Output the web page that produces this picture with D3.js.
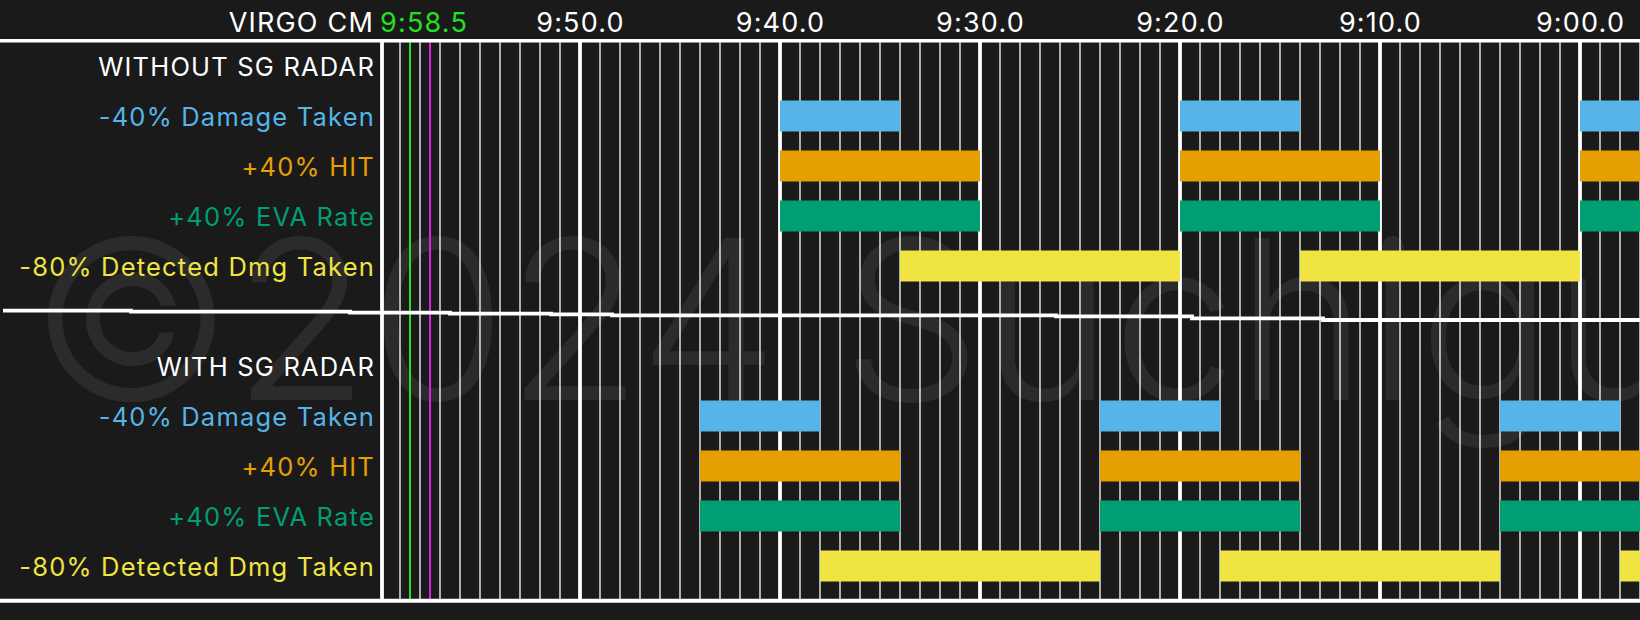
<!DOCTYPE html>
<html>
<head>
<meta charset="utf-8">
<script src="https://cdn.jsdelivr.net/npm/d3@7"></script>
<style>
  html, body { margin: 0; padding: 0; background: #1a1a1a; }
  svg { display: block; }
</style>
</head>
<body>
<svg id="chart" width="1640" height="620"></svg>
<script>
// ---------------- DATA ----------------
const headerLabel = "VIRGO CM";
const markerLabel = "9:58.5";
const markerTimes = ["9:58.5", "9:57.5"];            // green line, magenta line
const tickLabels = ["9:50.0", "9:40.0", "9:30.0", "9:20.0", "9:10.0", "9:00.0"];
const timeStart = "10:00";
const timeEnd = "8:57";
const sections = ["WITHOUT SG RADAR", "WITH SG RADAR"];
const categories = ["-40% Damage Taken", "+40% HIT", "+40% EVA Rate", "-80% Detected Dmg Taken"];
const categoryColors = ["#56b4e9", "#e69f00", "#009e73", "#f0e442"];

// active windows [from, to] (countdown timer)
const withoutDamageTaken = [["9:40", "9:34"], ["9:20", "9:14"], ["9:00", "8:54"]];
const withoutHit         = [["9:40", "9:30"], ["9:20", "9:10"], ["9:00", "8:50"]];
const withoutEva         = [["9:40", "9:30"], ["9:20", "9:10"], ["9:00", "8:50"]];
const withoutDetected    = [["9:34", "9:20"], ["9:14", "9:00"]];
const withDamageTaken    = [["9:44", "9:38"], ["9:24", "9:18"], ["9:04", "8:58"]];
const withHit            = [["9:44", "9:34"], ["9:24", "9:14"], ["9:04", "8:54"]];
const withEva            = [["9:44", "9:34"], ["9:24", "9:14"], ["9:04", "8:54"]];
const withDetected       = [["9:38", "9:24"], ["9:18", "9:04"], ["8:58", "8:44"]];
const watermark = "\u00A92024 Suchiguma";

// ---------------- CHART ----------------
const W = 1640, H = 620;
const FONT = "Inter, 'Noto Sans', sans-serif";
const toSec = s => { const [m, ss] = s.split(":"); return (+m) * 60 + (+ss); };

const x = d3.scaleLinear().domain([toSec(timeStart), toSec(timeEnd)]).range([380, 1640]);
// row slots: 0 header1, 1-4 rows, 5 separator, 6 header2, 7-10 rows
const y = d3.scalePoint().domain(d3.range(11)).range([66, 566]);
const barH = 31;
const topY = 40.7, bottomY = 600.7;

const svg = d3.select("#chart");
svg.append("rect").attr("width", W).attr("height", H).attr("fill", "#1a1a1a");

// watermark
svg.append("text")
  .attr("x", 30).attr("y", y(6) + 34)
  .attr("font-family", FONT).attr("font-weight", 300)
  .attr("font-size", 222)
  .attr("fill", "#ffffff").attr("fill-opacity", 0.075)
  .text(watermark);

svg.append("defs").append("clipPath").attr("id", "plotClip")
  .append("rect").attr("x", x.range()[0]).attr("y", 0).attr("width", W - x.range()[0]).attr("height", H);

const plot = svg.append("g").attr("clip-path", "url(#plotClip)");

// grid lines every second, thick every 10 s
const secs = d3.range(Math.ceil(x.domain()[1]), x.domain()[0] + 1);
plot.selectAll("line.grid").data(secs).join("line")
  .attr("class", "grid")
  .attr("x1", d => x(d) + (d === x.domain()[0] ? 2 : 0))
  .attr("x2", d => x(d) + (d === x.domain()[0] ? 2 : 0))
  .attr("y1", topY).attr("y2", bottomY)
  .attr("stroke", "#ffffff")
  .attr("stroke-width", d => d % 10 === 0 ? 3.8 : 1.3);

// bars
const sectionData = [
  [withoutDamageTaken, withoutHit, withoutEva, withoutDetected],
  [withDamageTaken, withHit, withEva, withDetected]
];
const bars = [];
sectionData.forEach((sec, si) => sec.forEach((arr, ci) => arr.forEach(([a, b]) => {
  bars.push({ slot: si * 6 + 1 + ci, ci, a: toSec(a), b: toSec(b) });
})));
plot.selectAll("rect.bar").data(bars).join("rect")
  .attr("class", "bar")
  .attr("x", d => x(d.a))
  .attr("width", d => x(d.b) - x(d.a))
  .attr("y", d => y(d.slot) - barH / 2)
  .attr("height", barH)
  .attr("fill", d => categoryColors[d.ci]);

// marker lines
const markerColors = ["#22e022", "#e020e0"];
plot.selectAll("line.marker").data(markerTimes).join("line")
  .attr("class", "marker")
  .attr("x1", d => x(toSec(d))).attr("x2", d => x(toSec(d)))
  .attr("y1", topY).attr("y2", bottomY)
  .attr("stroke", (d, i) => markerColors[i]).attr("stroke-width", 2);

// horizontal frame lines
svg.append("line").attr("x1", 0).attr("x2", W).attr("y1", topY).attr("y2", topY)
  .attr("stroke", "#fff").attr("stroke-width", 3.6);
svg.append("line").attr("x1", 0).attr("x2", W).attr("y1", bottomY).attr("y2", bottomY)
  .attr("stroke", "#fff").attr("stroke-width", 4);
// hand drawn separator (stepped)
svg.append("path")
  .attr("d", d3.line().curve(d3.curveStepAfter)([[3, y(5) - 5.3], [131, y(5) - 4.3], [350, y(5) - 3.3], [450, y(5) - 2.3], [551, y(5) - 1.7], [612, y(5) - 0.7], [1056, y(5) + 0.3], [1192, y(5) + 2.3], [1323, y(5) + 4], [W, y(5) + 4]]))
  .attr("fill", "none").attr("stroke", "#fff").attr("stroke-width", 3.8);

// time axis labels
const axis = d3.axisTop(x)
  .tickValues(tickLabels.map(toSec))
  .tickFormat((d, i) => tickLabels[i])
  .tickSize(0).tickPadding(0);
const ga = svg.append("g").attr("transform", "translate(0,32)").call(axis);
ga.select(".domain").remove();
ga.selectAll("text")
  .attr("fill", "#ffffff").attr("font-family", FONT).attr("font-size", 27)
  .attr("letter-spacing", 1.2).attr("dy", 0);

// header
svg.append("text").attr("x", 374).attr("y", 32).attr("text-anchor", "end")
  .attr("font-family", FONT).attr("font-size", 27).attr("letter-spacing", 1.2)
  .attr("fill", "#fff").text(headerLabel);
svg.append("text").attr("x", 380).attr("y", 32).attr("text-anchor", "start")
  .attr("font-family", FONT).attr("font-size", 27).attr("letter-spacing", 1.2)
  .attr("fill", "#22e022").text(markerLabel);

// row labels
const labelRows = [];
sections.forEach((s, si) => {
  labelRows.push({ slot: si * 6, text: s, color: "#ffffff" });
  categories.forEach((c, ci) => labelRows.push({ slot: si * 6 + 1 + ci, text: c, color: categoryColors[ci] }));
});
svg.selectAll("text.rowlabel").data(labelRows).join("text")
  .attr("class", "rowlabel")
  .attr("x", 375).attr("y", d => y(d.slot) + 10)
  .attr("text-anchor", "end")
  .attr("font-family", FONT).attr("font-size", 25.5).attr("letter-spacing", 1.2)
  .attr("fill", d => d.color)
  .text(d => d.text);
</script>
</body>
</html>
